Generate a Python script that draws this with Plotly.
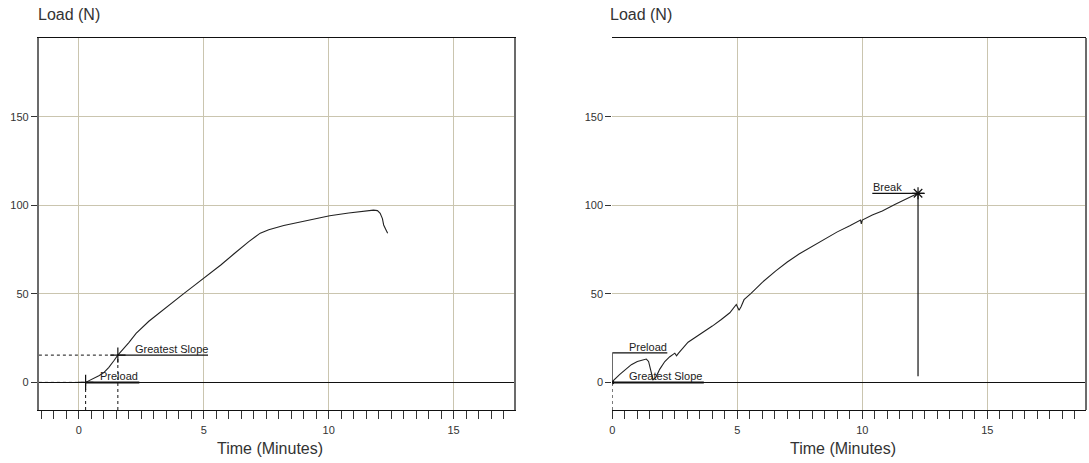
import plotly.graph_objects as go

# ---------------- data ----------------
# Left test: time (minutes) and load (N)
time_left = [0.27, 0.5, 0.8, 1.0, 1.2, 1.4, 1.56, 2.0, 2.29, 2.8, 3.35, 3.8, 4.21, 4.6,
             5.01, 5.68, 6.2, 6.8, 7.26, 7.6, 8.2, 8.94, 9.5, 10.04, 10.8, 11.46, 11.79,
             11.95, 12.06, 12.15, 12.2, 12.28, 12.36]
load_left = [0, 1.5, 3.8, 5.5, 8.5, 12.2, 15.4, 22.5, 27.7, 34.5, 40.8, 45.8, 50.3, 54.5,
             58.8, 66.3, 72.5, 79.5, 84.3, 86.2, 88.6, 90.7, 92.5, 94.1, 95.7, 96.9, 97.3,
             97.0, 95.5, 92.5, 88.9, 86.5, 84.2]

# Right test
time_right = [0, 0.03, 0.3, 0.5, 0.76, 1.0, 1.2, 1.36, 1.45, 1.52, 1.58, 1.63, 1.7, 1.76,
              1.9, 2.1, 2.3, 2.5, 2.57, 2.65, 3.03, 3.4, 3.7, 4.0, 4.36, 4.7, 4.96, 5.02,
              5.07, 5.15, 5.27, 5.55, 6.0, 6.54, 7.0, 7.47, 7.9, 8.27, 8.74, 9.0, 9.5,
              9.93, 9.96, 10.0, 10.4, 10.8, 11.3, 11.8, 12.23]
load_right = [0, 0.9, 4.5, 7, 10, 11.8, 12.5, 13.2, 11.8, 8, 3.5, 1.5, 2.2, 3.4,
              7.5, 11.8, 14.5, 16.5, 15.0, 16.5, 22.7, 26, 28.9, 31.8, 35.5, 39.3, 44, 42,
              40.7, 42.7, 46.7, 50.3, 56.5, 63, 68, 72.5, 76, 79.4, 83, 85, 88.5,
              91.7, 89.5, 91.7, 94.5, 96.8, 100.5, 104, 106.8]

# Marked points
left_preload = (0.27, 0)
left_slope = (1.56, 15.4)
right_preload = (0, 16.7)
right_slope = (0, 0)
right_break = (12.23, 106.8)

y_ticks = [0, 50, 100, 150]
x_ticks = [0, 5, 10, 15]
x_range_left = [-1.6, 17.4]
x_range_right = [0, 18.95]
y_range = [-15.6, 194.5]

# ---------------- figure ----------------
W, H = 1089, 463
fig = go.Figure()
BLACK = "#111111"
GRID = "#cac5af"
FONT = "Liberation Sans, Arial, sans-serif"


def line(xs, ys, xa, ya, width=1, dash=None, color=BLACK):
    fig.add_trace(go.Scatter(x=xs, y=ys, mode="lines", xaxis=xa, yaxis=ya,
                             line=dict(color=color, width=width, dash=dash),
                             hoverinfo="skip", showlegend=False))


# Left curve
line(time_left, load_left, "x", "y", width=1.1, color="#222222")
# Left: greatest slope annotations
line([x_range_left[0], left_slope[0]], [left_slope[1], left_slope[1]], "x", "y", dash="3px,3px")
line([left_slope[0], left_slope[0]], [y_range[0], left_slope[1]], "x", "y", dash="3px,3px")
line([left_slope[0], 5.17], [left_slope[1], left_slope[1]], "x", "y", width=1.2)
# Left: preload annotations
line([x_range_left[0], left_preload[0]], [left_preload[1], left_preload[1]], "x", "y", dash="3px,3px")
line([left_preload[0], left_preload[0]], [y_range[0], left_preload[1]], "x", "y", dash="3px,3px")
line([left_preload[0], 2.42], [left_preload[1], left_preload[1]], "x", "y", width=2)
fig.add_trace(go.Scatter(x=[left_preload[0], left_slope[0]], y=[left_preload[1], left_slope[1]],
                         mode="markers", xaxis="x", yaxis="y", hoverinfo="skip", showlegend=False,
                         marker=dict(symbol="cross-thin-open", size=11, color=BLACK,
                                     line=dict(color=BLACK, width=1.2))))

# Right curve
line(time_right, load_right, "x2", "y2", width=1.1, color="#222222")
# Right: preload bracket
line([right_slope[0], right_preload[0], 2.2], [0, right_preload[1], right_preload[1]], "x2", "y2", width=1.2)
# Right: greatest slope
line([right_slope[0], 3.66], [right_slope[1], right_slope[1]], "x2", "y2", width=2)
line([right_slope[0], right_slope[0]], [y_range[0], right_slope[1]], "x2", "y2", dash="3px,3px")
# Right: break
line([10.4, 12.5], [right_break[1], right_break[1]], "x2", "y2", width=1.2)
line([right_break[0], right_break[0]], [right_break[1], 3.4], "x2", "y2", width=1.2)
fig.add_trace(go.Scatter(x=[right_break[0]], y=[right_break[1]], mode="markers",
                         xaxis="x2", yaxis="y2", hoverinfo="skip", showlegend=False,
                         marker=dict(symbol="asterisk-open", size=10, color=BLACK,
                                     line=dict(color=BLACK, width=1.2))))
fig.add_trace(go.Scatter(x=[right_slope[0]], y=[right_slope[1]], mode="markers",
                         xaxis="x2", yaxis="y2", hoverinfo="skip", showlegend=False,
                         marker=dict(symbol="circle", size=4, color=BLACK)))

# Text annotations in data coords
ann_font = dict(family=FONT, size=11, color="#222222")
for xref, yref, x, y, txt in [
    ("x", "y", 2.2, left_slope[1], "Greatest Slope"),
    ("x", "y", 0.82, 0, "Preload"),
    ("x2", "y2", 0.63, right_preload[1], "Preload"),
    ("x2", "y2", 0.63, 0, "Greatest Slope"),
    ("x2", "y2", 10.4, right_break[1], "Break"),
]:
    fig.add_annotation(x=x, y=y, xref=xref, yref=yref, text=txt, showarrow=False,
                       xanchor="left", yanchor="bottom", font=ann_font, xshift=-1, yshift=-2)

# Titles
title_font = dict(family=FONT, size=16, color="#333333")
for px in (36, 610):
    fig.add_annotation(x=px / W, y=1 - 15 / H, xref="paper", yref="paper", text="Load (N)",
                       showarrow=False, xanchor="left", yanchor="middle", font=title_font,
                       xshift=-3)
xlab_font = dict(family=FONT, size=16, color="#333333")
for px in (268, 842):
    fig.add_annotation(x=px / W, y=1 - 448 / H, xref="paper", yref="paper", text="Time (Minutes)",
                       showarrow=False, xanchor="center", yanchor="middle", font=xlab_font)

ydom = [1 - 410 / H, 1 - 38 / H]
tick_font = dict(family=FONT, size=11, color="#333333")


def xaxis(domain, rng, anchor):
    return dict(domain=domain, range=rng, anchor=anchor, showgrid=True, gridcolor=GRID,
                gridwidth=1, zeroline=False, tickmode="array", tickvals=x_ticks,
                ticks="outside", ticklen=8, tickcolor="#333333", tickwidth=1,
                ticklabelstandoff=2,
                minor=dict(dtick=0.5, tick0=0, ticks="outside", ticklen=8,
                           tickcolor="#333333", tickwidth=1, showgrid=False),
                showline=True, linecolor=BLACK, linewidth=1, mirror=True,
                tickfont=tick_font, fixedrange=True)


def yaxis(anchor, showline):
    return dict(domain=ydom, range=y_range, anchor=anchor, showgrid=True, gridcolor=GRID,
                gridwidth=1, zeroline=True, zerolinecolor=BLACK, zerolinewidth=1,
                tickmode="array", tickvals=y_ticks, ticks="outside", ticklen=6,
                tickcolor="#333333", tickwidth=1, showline=showline, linecolor="#6b6b6b",
                linewidth=2, mirror=True, tickfont=tick_font, fixedrange=True)


fig.update_layout(
    width=W, height=H, margin=dict(l=0, r=0, t=0, b=0),
    paper_bgcolor="white", plot_bgcolor="white", showlegend=False,
    xaxis=xaxis([36 / W, 512 / W], x_range_left, "y"),
    yaxis=yaxis("x", True),
    xaxis2=xaxis([611 / W, 1086 / W], x_range_right, "y2"),
    yaxis2=yaxis("x2", False),
)
fig.add_shape(type="line", xref="x2 domain", yref="y2 domain", x0=1, x1=1, y0=0, y1=1,
              line=dict(color="#6b6b6b", width=2))

fig.write_html("out.html")
